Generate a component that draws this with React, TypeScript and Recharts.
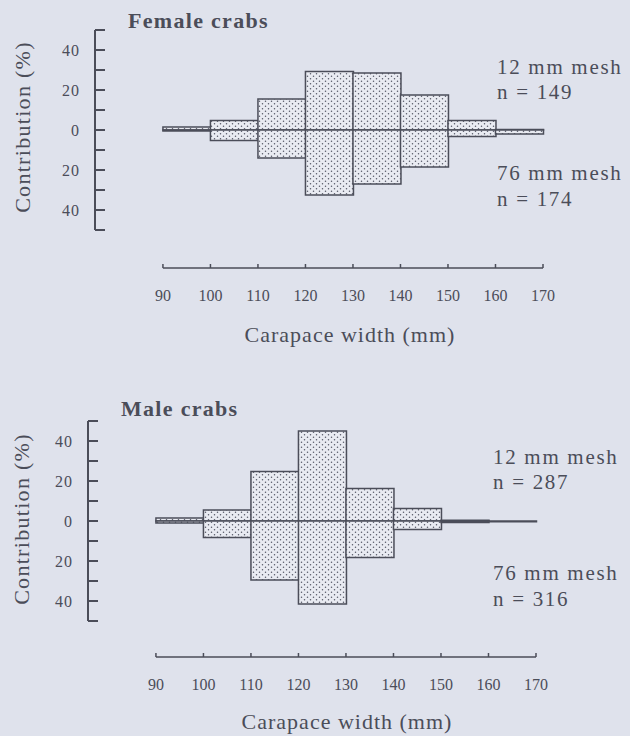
import React from "react";
import { ComposedChart, Bar, XAxis, YAxis, ReferenceLine } from "recharts";

// ---- data ----
const binMids = [95, 105, 115, 125, 135, 145, 155, 165];
const widthTicks = [90, 100, 110, 120, 130, 140, 150, 160, 170];
const contributionTicks = [-50, -40, -30, -20, -10, 0, 10, 20, 30, 40, 50];
const labelledTicks = [-40, -20, 0, 20, 40];

const female12 = [1.5, 4.7, 15.5, 29.3, 28.5, 17.5, 4.7, 0.3];
const female76 = [0.5, 5.3, 14, 32.5, 27, 18.5, 3.2, 2];
const male12 = [1.5, 5.5, 24.7, 45, 16.3, 6.3, 0.4, 0];
const male76 = [1, 8.2, 29.5, 41.5, 18.2, 4.2, 0.8, 0.4];

const BG = "#dfe2ec";
const INK = "#4b4d59";
const FONT = '"Liberation Serif", "DejaVu Serif", serif';
const X_MIN = 75.7;

const buildRows = (upper: number[], lower: number[]) =>
  binMids.map((mid, i) => ({ mid, mesh12: upper[i], mesh76: -lower[i] }));

const YTick = (props: any) => {
  const { x, y, payload } = props;
  const v = payload.value;
  return (
    <g>
      <line x1={x} x2={x + 10} y1={y} y2={y} stroke={INK} strokeWidth={2} />
      {labelledTicks.includes(v) && (
        <text x={x - 15} y={y} dy="0.35em" textAnchor="end" fill={INK}
          fontFamily={FONT} fontSize={16} letterSpacing={1}>
          {Math.abs(v)}
        </text>
      )}
    </g>
  );
};

const XTick = (props: any) => {
  const { x, y, payload } = props;
  return (
    <g>
      <line x1={x} x2={x} y1={y} y2={y - 4} stroke={INK} strokeWidth={1.5} />
      <text x={x} y={y + 27} dy="0.35em" textAnchor="middle" fill={INK}
        fontFamily={FONT} fontSize={16}>
        {payload.value}
      </text>
    </g>
  );
};

function Panel({ upper, lower, yMin, axisWidth, rightMargin }: any) {
  const rows = buildRows(upper, lower);
  return (
    <ComposedChart
      width={630}
      height={30 + (50 - yMin) * 2 + 40}
      data={rows}
      stackOffset="sign"
      barCategoryGap={0}
      margin={{ top: 30, right: rightMargin, bottom: 0, left: 0 }}
    >
      <XAxis
        dataKey="mid"
        type="number"
        domain={[X_MIN, 170]}
        ticks={widthTicks}
        interval={0}
        axisLine={false}
        tickLine={false}
        tickSize={0}
        tickMargin={0}
        tick={<XTick />}
        height={40}
      />
      <YAxis
        type="number"
        domain={[yMin, 50]}
        ticks={contributionTicks}
        interval={0}
        axisLine={false}
        tickLine={false}
        tickSize={0}
        tickMargin={0}
        tick={<YTick />}
        width={axisWidth}
      />
      <ReferenceLine segment={[{ x: X_MIN, y: -50 }, { x: X_MIN, y: 50 }]} stroke={INK} strokeWidth={2} />
      <ReferenceLine segment={[{ x: 90, y: yMin }, { x: 170, y: yMin }]} stroke={INK} strokeWidth={1.5} />
      <Bar dataKey="mesh12" stackId="s" fill="url(#stipple)" stroke={INK} strokeWidth={1.5} isAnimationActive={false} />
      <Bar dataKey="mesh76" stackId="s" fill="url(#stipple)" stroke={INK} strokeWidth={1.5} isAnimationActive={false} />
    </ComposedChart>
  );
}

const textStyle: React.CSSProperties = {
  position: "absolute",
  fontFamily: FONT,
  color: INK,
  whiteSpace: "nowrap",
};

export default function App() {
  return (
    <div style={{ position: "absolute", left: 0, top: 0, width: 630, height: 736, background: BG, overflow: "hidden" }}>
      <svg width={0} height={0} style={{ position: "absolute" }}>
        <defs>
          <pattern id="stipple" width={6} height={5} patternUnits="userSpaceOnUse">
            <rect width={6} height={5} fill="#e9ebf2" />
            <circle cx={1.5} cy={1.2} r={0.75} fill="#555866" />
            <circle cx={4.5} cy={3.7} r={0.75} fill="#555866" />
          </pattern>
        </defs>
      </svg>

      {/* Female panel */}
      <div style={{ position: "absolute", left: 0, top: 0 }}>
        <Panel upper={female12} lower={female76} yMin={-69} axisWidth={95} rightMargin={87} />
      </div>
      {/* Male panel */}
      <div style={{ position: "absolute", left: 0, top: 391 }}>
        <Panel upper={male12} lower={male76} yMin={-68} axisWidth={88} rightMargin={94} />
      </div>

      <div style={{ ...textStyle, left: 128, top: 8, fontSize: 22, fontWeight: "bold", letterSpacing: 1.3 }}>Female crabs</div>
      <div style={{ ...textStyle, left: 121, top: 396, fontSize: 22, fontWeight: "bold", letterSpacing: 1.3 }}>Male crabs</div>

      <div style={{ ...textStyle, left: 23, top: 127, fontSize: 22, letterSpacing: 1.3, transform: "translate(-50%, -50%) rotate(-90deg)" }}>Contribution (%)</div>
      <div style={{ ...textStyle, left: 22, top: 519, fontSize: 22, letterSpacing: 1.3, transform: "translate(-50%, -50%) rotate(-90deg)" }}>Contribution (%)</div>

      <div style={{ ...textStyle, left: 350, top: 335, fontSize: 22, letterSpacing: 1, transform: "translate(-50%, -50%)" }}>Carapace width (mm)</div>
      <div style={{ ...textStyle, left: 347, top: 722, fontSize: 22, letterSpacing: 1, transform: "translate(-50%, -50%)" }}>Carapace width (mm)</div>

      <div style={{ ...textStyle, left: 497, top: 55, fontSize: 21, lineHeight: "25px", letterSpacing: 1.7 }}>12 mm mesh<br />n = 149</div>
      <div style={{ ...textStyle, left: 497, top: 160, fontSize: 21, lineHeight: "26px", letterSpacing: 1.7 }}>76 mm mesh<br />n = 174</div>
      <div style={{ ...textStyle, left: 493, top: 445, fontSize: 21, lineHeight: "25px", letterSpacing: 1.7 }}>12 mm mesh<br />n = 287</div>
      <div style={{ ...textStyle, left: 493, top: 560, fontSize: 21, lineHeight: "26px", letterSpacing: 1.7 }}>76 mm mesh<br />n = 316</div>
    </div>
  );
}
